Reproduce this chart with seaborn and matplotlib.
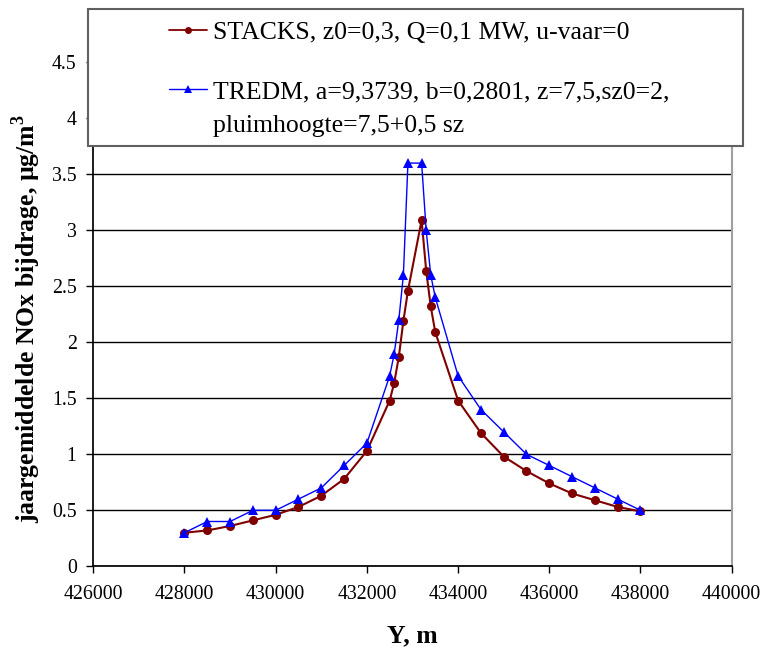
import matplotlib
matplotlib.use("Agg")
import matplotlib.pyplot as plt
import seaborn as sns
import pandas as pd
from matplotlib.patches import Rectangle
from matplotlib.lines import Line2D

# ---- data ----
y_pos = [428000, 428500, 429000, 429500, 430000, 430500, 431000, 431500, 432000,
         432500, 432600, 432700, 432800, 432900,
         433200, 433300, 433400, 433500,
         434000, 434500, 435000, 435500, 436000, 436500, 437000, 437500, 438000]
stacks = [0.30, 0.32, 0.36, 0.41, 0.46, 0.53, 0.63, 0.78, 1.03,
          1.48, 1.64, 1.87, 2.19, 2.46,
          3.09, 2.64, 2.32, 2.09,
          1.48, 1.19, 0.98, 0.85, 0.74, 0.65, 0.59, 0.53, 0.49]
tredm = [0.3, 0.4, 0.4, 0.5, 0.5, 0.6, 0.7, 0.9, 1.1,
         1.7, 1.9, 2.2, 2.6, 3.6,
         3.6, 3.0, 2.6, 2.4,
         1.7, 1.4, 1.2, 1.0, 0.9, 0.8, 0.7, 0.6, 0.5]
label_stacks = "STACKS, z0=0,3, Q=0,1 MW, u-vaar=0"
label_tredm = "TREDM, a=9,3739, b=0,2801, z=7,5,sz0=2,"
label_tredm2 = "pluimhoogte=7,5+0,5 sz"
x_ticks = [426000, 428000, 430000, 432000, 434000, 436000, 438000, 440000]
y_ticks = [0, 0.5, 1, 1.5, 2, 2.5, 3, 3.5, 4, 4.5]
y_tick_labels = ["0", "0.5", "1", "1.5", "2", "2.5", "3", "3.5", "4", "4.5"]

sns.set_theme(style="white")
plt.rcParams["font.family"] = ["Liberation Serif", "DejaVu Serif"]
plt.rcParams["mathtext.fontset"] = "custom"
plt.rcParams["mathtext.rm"] = "Liberation Serif"
plt.rcParams["mathtext.bf"] = "Liberation Serif:bold"
plt.rcParams["text.color"] = "black"
plt.rcParams["axes.labelcolor"] = "black"
plt.rcParams["xtick.color"] = "black"
plt.rcParams["ytick.color"] = "black"

df = pd.DataFrame({"Y": y_pos, "STACKS": stacks, "TREDM": tredm})

fig = plt.figure(figsize=(7.62, 6.5), dpi=100)
ax_h = (566.3 - 10) / 650
ax = fig.add_axes([93.3 / 762, 1 - 566.3 / 650, (731.7 - 93.3) / 762, ax_h])

sns.lineplot(data=df, x="Y", y="STACKS", ax=ax, color="#800000", marker="o",
             markersize=6.5, markeredgewidth=0, linewidth=1.5, sort=False,
             estimator=None, zorder=3)
sns.lineplot(data=df, x="Y", y="TREDM", ax=ax, color="#0000FF", marker="^",
             markersize=7.5, markeredgewidth=0, linewidth=1.0, sort=False,
             estimator=None, zorder=4)

ax.set_xlim(426000, 440000)
ax.set_ylim(0, (566.3 - 10) / 112)
ax.set_xticks(x_ticks)
ax.set_xticklabels([str(v) for v in x_ticks])
ax.set_yticks(y_ticks)
ax.set_yticklabels(y_tick_labels)
ax.yaxis.grid(True, color="black", linewidth=1.0)
ax.set_axisbelow(True)
ax.tick_params(axis="both", which="major", labelsize=14.3, length=5, width=1,
               color="black", labelcolor="black", direction="out",
               bottom=True, left=True)
ax.tick_params(axis="x", pad=8.5)
ax.tick_params(axis="y", pad=7)
ax.spines["left"].set_color("black")
ax.spines["bottom"].set_color("black")
ax.spines["right"].set_color("#a0a0a0")
ax.spines["right"].set_linewidth(1.5)
ax.spines["top"].set_visible(False)

ax.set_xlabel("Y, m", fontsize=18.5, fontweight="bold", color="black")
ax.set_ylabel("jaargemiddelde NOx bijdrage, µg/m$^\\mathbf{3}$", fontsize=18.5,
              fontweight="bold", color="black")
ax.xaxis.set_label_coords(0.5, (566.3 - 624) / (566.3 - 10))
ax.yaxis.set_label_coords((43 - 93.3) / (731.7 - 93.3), (566.3 - 318) / (566.3 - 10))

# legend frame
rect = Rectangle((88 / 762, 1 - 145.7 / 650), (743 - 88) / 762, (145.7 - 9) / 650,
                 transform=fig.transFigure, facecolor="white", edgecolor="#606060",
                 linewidth=1.5, zorder=5)
fig.add_artist(rect)

h1 = Line2D([], [], color="#800000", marker="o", markersize=5, linewidth=1.3,
            markeredgewidth=0)
h2 = Line2D([], [], color="#0000FF", marker="^", markersize=6, linewidth=1.0,
            markeredgewidth=0)
blank = Line2D([], [], color="none")
common = dict(frameon=False, fontsize=18.5, handlelength=1.48,
              handletextpad=0.23, borderpad=0.0, borderaxespad=0.0,
              loc="center left")
leg1 = fig.legend(handles=[h1], labels=[label_stacks],
                  bbox_to_anchor=(169 / 762, 1 - 33 / 650), **common)
leg1.set_zorder(6)
leg2 = fig.legend(handles=[h2, blank], labels=[label_tredm, label_tredm2],
                  bbox_to_anchor=(169 / 762, 1 - 108.5 / 650), labelspacing=0.4,
                  **common)
leg2.set_zorder(6)

fig.savefig("out.png", dpi=100)
